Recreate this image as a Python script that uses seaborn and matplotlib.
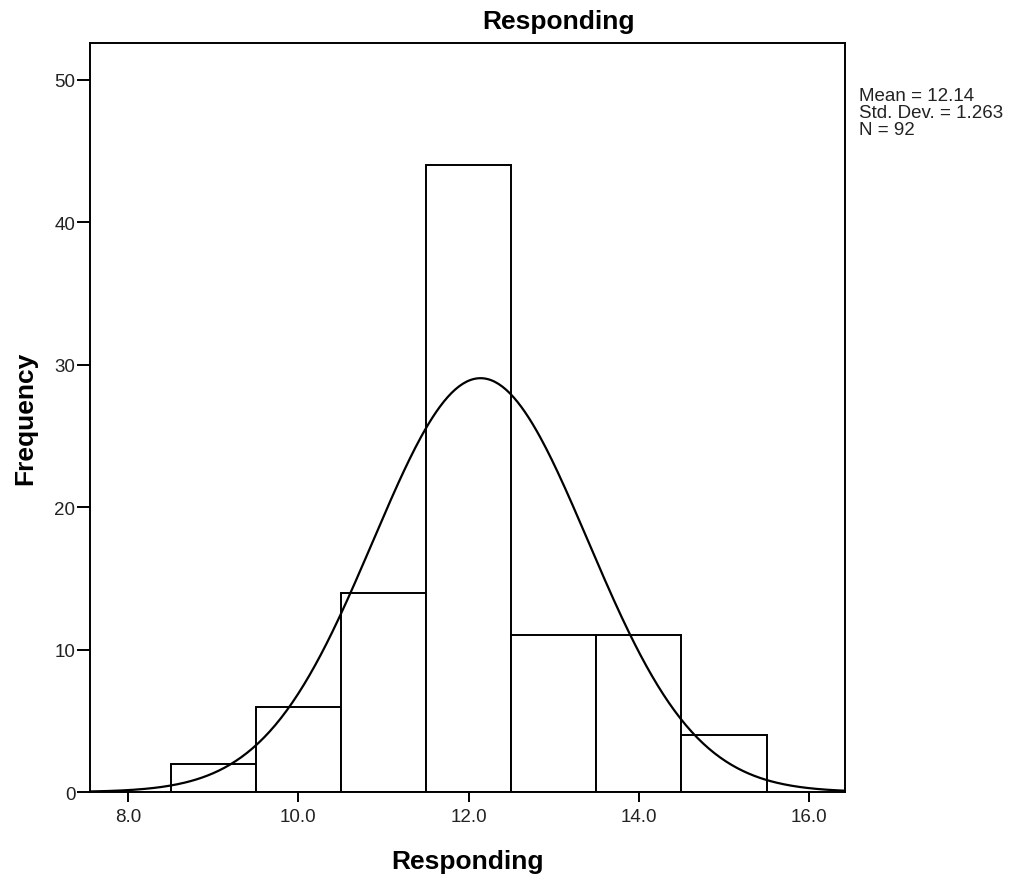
import numpy as np
import pandas as pd
import matplotlib
matplotlib.use("Agg")
import matplotlib.pyplot as plt
import seaborn as sns

# Frequency table of the Responding score
bin_centers = [9.0, 10.0, 11.0, 12.0, 13.0, 14.0, 15.0]
frequencies = [2, 6, 14, 44, 11, 11, 4]
bin_edges = [8.5, 9.5, 10.5, 11.5, 12.5, 13.5, 14.5, 15.5]

# Summary statistics shown beside the plot
mean_value = 12.14
std_dev = 1.263
n_cases = 92

x_ticks = [8.0, 10.0, 12.0, 14.0, 16.0]
x_tick_labels = ["8.0", "10.0", "12.0", "14.0", "16.0"]
y_ticks = [0, 10, 20, 30, 40, 50]

sns.set_theme(style="white")
plt.rcParams["font.family"] = ["Liberation Sans", "DejaVu Sans"]

scores = pd.DataFrame({"Responding": np.repeat(bin_centers, frequencies)})

x_lo, x_hi = 7.553, 16.42

fig = plt.figure(figsize=(10.2, 8.79), dpi=100)
ax = fig.add_axes([0.0882, 0.0978, 0.7402, 0.8522])

sns.histplot(data=scores, x="Responding", bins=bin_edges, stat="count",
             color="white", edgecolor="black", linewidth=1.4, alpha=1.0, ax=ax)

# Normal curve scaled to counts (bin width 1)
xs = np.linspace(x_lo, x_hi, 400)
bin_width = 1.0
ys = n_cases * bin_width / (std_dev * np.sqrt(2 * np.pi)) * np.exp(-0.5 * ((xs - mean_value) / std_dev) ** 2)
sns.lineplot(x=xs, y=ys, color="black", linewidth=1.6, ax=ax)

ax.set_xlim(x_lo, x_hi)
ax.set_ylim(0, 52.6)
ax.set_xticks(x_ticks)
ax.set_xticklabels(x_tick_labels)
ax.set_yticks(y_ticks)
ax.tick_params(axis="x", direction="out", length=7.5, width=1.4, color="black",
               labelsize=13.5, labelcolor="#222222", bottom=True, pad=4)
ax.tick_params(axis="y", direction="out", length=9.5, width=1.4, color="black",
               labelsize=13.5, labelcolor="#222222", left=True, pad=1)

for side in ax.spines.values():
    side.set_color("black")
    side.set_linewidth(1.4)

ax.set_xlabel("Responding", fontsize=19, fontweight="bold", color="black", labelpad=17)
ax.set_ylabel("Frequency", fontsize=19, fontweight="bold", color="black", labelpad=12)

fig.text(0.548, 0.975, "Responding", fontsize=19, fontweight="bold",
         color="black", ha="center", va="center")

fig.text(0.842, 0.9, 
         f"Mean = {mean_value:.2f}\nStd. Dev. = {std_dev:.3f}\nN = {n_cases}",
         fontsize=13.5, va="top", ha="left", linespacing=1.0, color="#222222")

fig.savefig("out.png", dpi=100, facecolor="white")
